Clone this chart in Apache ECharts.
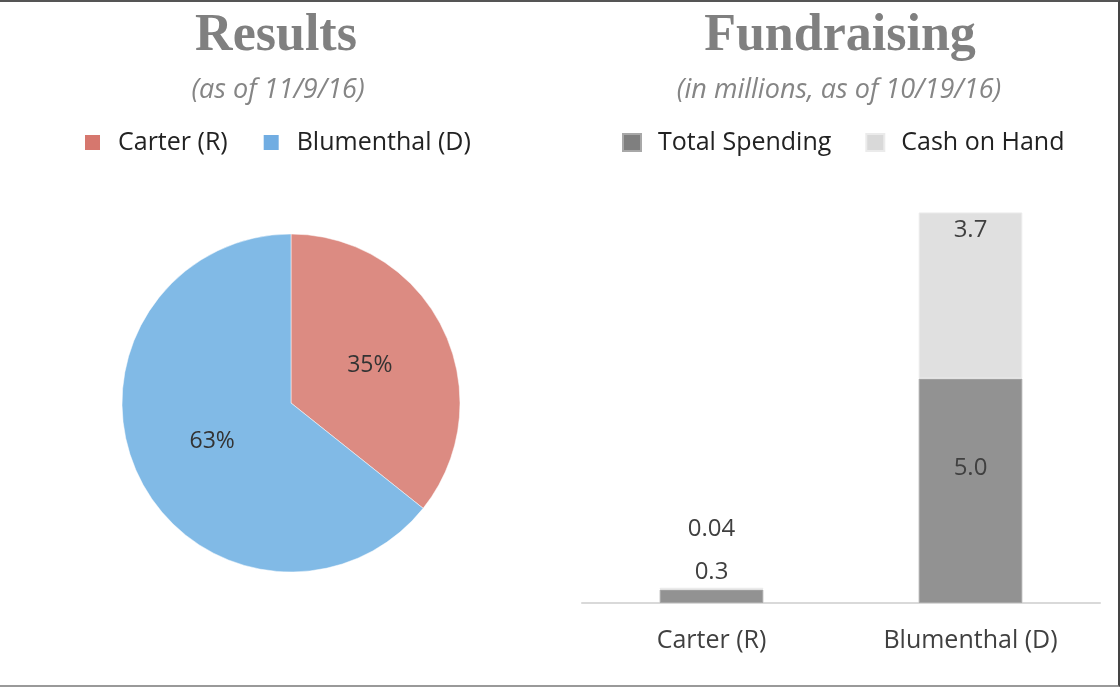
<!DOCTYPE html>
<html>
<head>
<meta charset="utf-8">
<script src="https://cdn.jsdelivr.net/npm/echarts@6/dist/echarts.min.js"></script>
<style>
html,body{margin:0;padding:0;background:#fff;}
#wrap{position:relative;width:1120px;height:687px;}
#chart{width:1120px;height:687px;}
#frame{position:absolute;left:0;top:0;width:1120px;height:687px;box-sizing:border-box;border-top:2px solid #555;border-right:2px solid #444;border-bottom:2px solid #999;pointer-events:none;}
</style>
</head>
<body>
<div id="wrap"><div id="chart"></div><div id="frame"></div></div>
<script>
const pieNames = ['Carter (R)', 'Blumenthal (D)'];
const pieValues = [35, 63];
const barCategories = ['Carter (R)', 'Blumenthal (D)'];
const totalSpending = [0.3, 5.0];
const cashOnHand = [0.04, 3.7];
const spendingLabels = ['0.3', '5.0'];
const cashLabels = ['0.04', '3.7'];

const FONT = '"Open Sans", sans-serif';
const chart = echarts.init(document.getElementById('chart'), null, {renderer: 'canvas'});

const pieColors = ['#DC8B82', '#81BAE6'];
const pieLegendColors = ['#D6776E', '#71ADE2'];

chart.setOption({
  animation: false,
  backgroundColor: '#ffffff',
  title: [
    {text: 'Results', left: 271, top: 6, textAlign: 'center',
     textStyle: {fontFamily: '"Liberation Serif", serif', fontWeight: 'bold', fontSize: 52, color: '#808080'}},
    {text: '(as of 11/9/16)', left: 273, top: 72, textAlign: 'center',
     textStyle: {fontFamily: FONT, fontStyle: 'italic', fontWeight: 'normal', fontSize: 27, color: '#858585'}},
    {text: 'Fundraising', left: 835, top: 6, textAlign: 'center',
     textStyle: {fontFamily: '"Liberation Serif", serif', fontWeight: 'bold', fontSize: 52, color: '#808080'}},
    {text: '(in millions, as of 10/19/16)', left: 834, top: 72, textAlign: 'center',
     textStyle: {fontFamily: FONT, fontStyle: 'italic', fontWeight: 'normal', fontSize: 27, color: '#858585'}}
  ],
  legend: [
    {
      left: 78, top: 125, itemWidth: 17, itemHeight: 17, itemGap: 34, icon: 'rect',
      data: pieNames.map((n, i) => ({name: n, itemStyle: {color: pieLegendColors[i]}})),
      textStyle: {fontFamily: FONT, fontSize: 25, color: '#222', padding: [0, 0, 0, 12]}
    },
    {
      left: 617, top: 125, itemWidth: 18, itemHeight: 17, itemGap: 34, icon: 'rect',
      data: [{name: 'Total Spending', itemStyle: {color: '#7F7F7F'}}, {name: 'Cash on Hand', itemStyle: {color: '#D9D9D9'}}],
      textStyle: {fontFamily: FONT, fontSize: 25, color: '#222', padding: [0, 0, 0, 12]}
    }
  ],
  grid: {left: 582, right: 20, top: 199, bottom: 84, containLabel: false},
  xAxis: {
    type: 'category', data: barCategories,
    axisLine: {lineStyle: {color: '#D9D9D9', width: 2}},
    axisTick: {show: false},
    axisLabel: {fontFamily: FONT, fontSize: 25, color: '#404040', margin: 25}
  },
  yAxis: {type: 'value', min: 0, max: 9, show: false, splitLine: {show: false}},
  series: [
    {
      type: 'pie', center: [291, 403], radius: 169, startAngle: 90, clockwise: true,
      data: pieNames.map((n, i) => ({name: n, value: pieValues[i], itemStyle: {color: pieColors[i]}})),
      label: {position: 'inside', formatter: p => p.value + '%', fontFamily: FONT, fontSize: 23, color: '#333'},
      labelLine: {show: false},
      itemStyle: {borderColor: '#fff', borderWidth: 0.5},
      emphasis: {disabled: true}
    },
    {
      name: 'Total Spending', type: 'bar', stack: 'f', barWidth: '40%',
      itemStyle: {color: '#929292', borderColor: '#a8a8a8', borderWidth: 1},
      data: totalSpending.map((v, i) => ({
        value: v,
        label: i === 0
          ? {show: true, position: 'top', distance: 5, formatter: spendingLabels[i]}
          : {show: true, position: 'insideTop', distance: 78, formatter: spendingLabels[i]}
      })),
      label: {fontFamily: FONT, fontSize: 24, color: '#404040'},
      emphasis: {disabled: true}
    },
    {
      name: 'Cash on Hand', type: 'bar', stack: 'f', barWidth: '40%',
      itemStyle: {color: '#E0E0E0', borderColor: '#ebebeb', borderWidth: 1},
      data: cashOnHand.map((v, i) => ({
        value: v,
        label: i === 0
          ? {show: true, position: 'top', distance: 47, formatter: cashLabels[i]}
          : {show: true, position: 'insideTop', distance: 6, formatter: cashLabels[i]}
      })),
      label: {fontFamily: FONT, fontSize: 24, color: '#404040'},
      emphasis: {disabled: true}
    }
  ]
});
</script>
</body>
</html>
